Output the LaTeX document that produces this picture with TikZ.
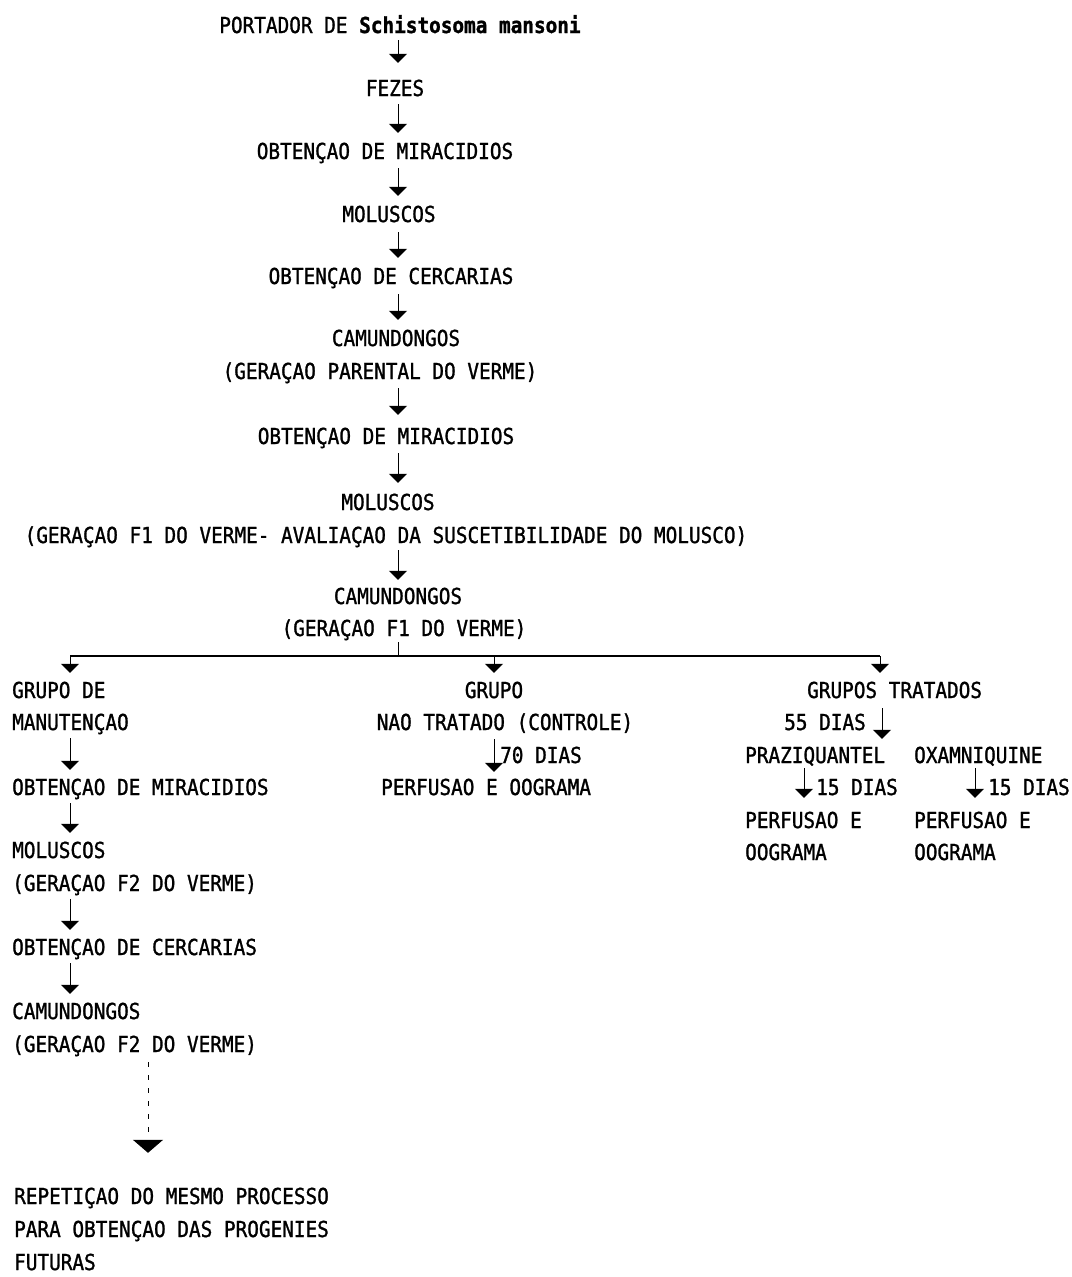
\documentclass[tikz,border=0pt]{standalone}
\usepackage{fontspec}
\usetikzlibrary{arrows.meta,calc}
\newfontfamily\dm[FakeStretch=0.88,FakeBold=1.2]{DejaVu Sans Mono}
\newcommand\myarrow[5]{\draw[arr] ($(#1.south -| #3)+(0,#4)$) -- ($(#2.north -| #3)+(0,-#5)$);}
\begin{document}
\begin{tikzpicture}[x=1pt,y=-1pt,
  t/.style={font=\dm\fontsize{22}{26}\selectfont, inner sep=0pt, text height=16pt, text depth=0pt},
  tl/.style={t, anchor=west},
  arr/.style={-{Triangle[width=18pt,length=9pt]}, line width=1pt},
  dotarr/.style={dashed, dash pattern=on 5pt off 8pt, line width=1pt, -{Triangle[width=30pt,length=13pt]}},
  forkline/.style={line width=1.3pt}]
\useasboundingbox[fill=white] (0,0) rectangle (1071,1277);
% central chain
\node[t] (portador) at (400,25) {PORTADOR DE {\bfseries Schistosoma mansoni}};
\node[t] (fezes) at (395,88) {FEZES};
\node[t] (mir1) at (385,151) {OBTENÇAO DE MIRACIDIOS};
\node[t] (mol1) at (389,214) {MOLUSCOS};
\node[t] (cer1) at (391,276) {OBTENÇAO DE CERCARIAS};
\node[t] (cam1) at (396,338) {CAMUNDONGOS};
\node[t] (par) at (380,371) {(GERAÇAO PARENTAL DO VERME)};
\node[t] (mir2) at (386,436) {OBTENÇAO DE MIRACIDIOS};
\node[t] (mol2) at (388,502) {MOLUSCOS};
\node[t] (f1a) at (386,535) {(GERAÇAO F1 DO VERME- AVALIAÇAO DA SUSCETIBILIDADE DO MOLUSCO)};
\node[t] (cam2) at (398,596) {CAMUNDONGOS};
\node[t] (f1b) at (404,628) {(GERAÇAO F1 DO VERME)};
% left column
\node[tl] (grp1) at (12,690) {GRUPO DE};
\node[tl] (man) at (12,722) {MANUTENÇAO};
\node[tl] (mir3) at (12,787) {OBTENÇAO DE MIRACIDIOS};
\node[tl] (mol3) at (12,850) {MOLUSCOS};
\node[tl] (f2a) at (12,883) {(GERAÇAO F2 DO VERME)};
\node[tl] (cer3) at (12,947) {OBTENÇAO DE CERCARIAS};
\node[tl] (cam3) at (12,1011) {CAMUNDONGOS};
\node[tl] (f2b) at (12,1044) {(GERAÇAO F2 DO VERME)};
\node[tl] (rep1) at (14,1196) {REPETIÇAO DO MESMO PROCESSO};
\node[tl] (rep2) at (14,1229) {PARA OBTENÇAO DAS PROGENIES};
\node[tl] (rep3) at (14,1262) {FUTURAS};
% middle column
\node[t] (grp2) at (494,690) {GRUPO};
\node[t] (nao) at (505,722) {NAO TRATADO (CONTROLE)};
\node[tl] (d70) at (500,755) {70 DIAS};
\node[tl] (perf1) at (381,787) {PERFUSAO E OOGRAMA};
% right column
\node[tl] (grp3) at (807,690) {GRUPOS TRATADOS};
\node[tl] (d55) at (784,722) {55 DIAS};
\node[tl] (praz) at (745,755) {PRAZIQUANTEL};
\node[tl] (oxa) at (914,755) {OXAMNIQUINE};
\node[tl] (d15a) at (816,787) {15 DIAS};
\node[tl] (d15b) at (988,787) {15 DIAS};
\node[tl] (perf2) at (745,820) {PERFUSAO E};
\node[tl] (oog2) at (745,852) {OOGRAMA};
\node[tl] (perf3) at (914,820) {PERFUSAO E};
\node[tl] (oog3) at (914,852) {OOGRAMA};
% x positions of arrows
\coordinate (cx) at (398,0);
\coordinate (lx) at (70,0);
\coordinate (mx) at (494,0);
\coordinate (rx) at (880,0);
\coordinate (r55) at (882,0);
\coordinate (pzx) at (804,0);
\coordinate (oxx) at (975,0);
\coordinate (dx) at (148,0);
\coordinate (forkL) at (70,656);
\coordinate (forkC) at (398,656);
\coordinate (forkM) at (494,656);
\coordinate (forkR) at (880,656);
% central arrows
\myarrow{portador}{fezes}{cx}{7}{17}
\myarrow{fezes}{mir1}{cx}{8}{10}
\myarrow{mir1}{mol1}{cx}{9}{10}
\myarrow{mol1}{cer1}{cx}{10}{10}
\myarrow{cer1}{cam1}{cx}{10}{10}
\myarrow{par}{mir2}{cx}{9}{13}
\myarrow{mir2}{mol2}{cx}{9}{11}
\myarrow{f1a}{cam2}{cx}{7}{8}
% fork
\draw[line width=0.8pt] ($(f1b.south -| cx)+(0,6)$) -- (forkC);
\draw[forkline] (forkL) -- (forkR);
\draw[arr] (forkL) -- ($(grp1.north -| forkL)+(0,-9)$);
\draw[arr] (forkM) -- ($(grp2.north -| forkM)+(0,-9)$);
\draw[arr] (forkR) -- ($(grp3.north -| forkR)+(0,-9)$);
% left arrows
\myarrow{man}{mir3}{lx}{8}{9}
\myarrow{mir3}{mol3}{lx}{8}{9}
\myarrow{f2a}{cer3}{lx}{8}{9}
\myarrow{cer3}{cam3}{lx}{8}{9}
\draw[dotarr] ($(f2b.south -| dx)+(0,10)$) -- ($(rep1.north -| dx)+(0,-35)$);
% middle arrow
\myarrow{nao}{perf1}{mx}{9}{7}
% right arrows
\myarrow{grp3}{praz}{r55}{10}{8}
\myarrow{praz}{perf2}{pzx}{5}{14}
\myarrow{oxa}{perf3}{oxx}{5}{14}
\end{tikzpicture}
\end{document}
